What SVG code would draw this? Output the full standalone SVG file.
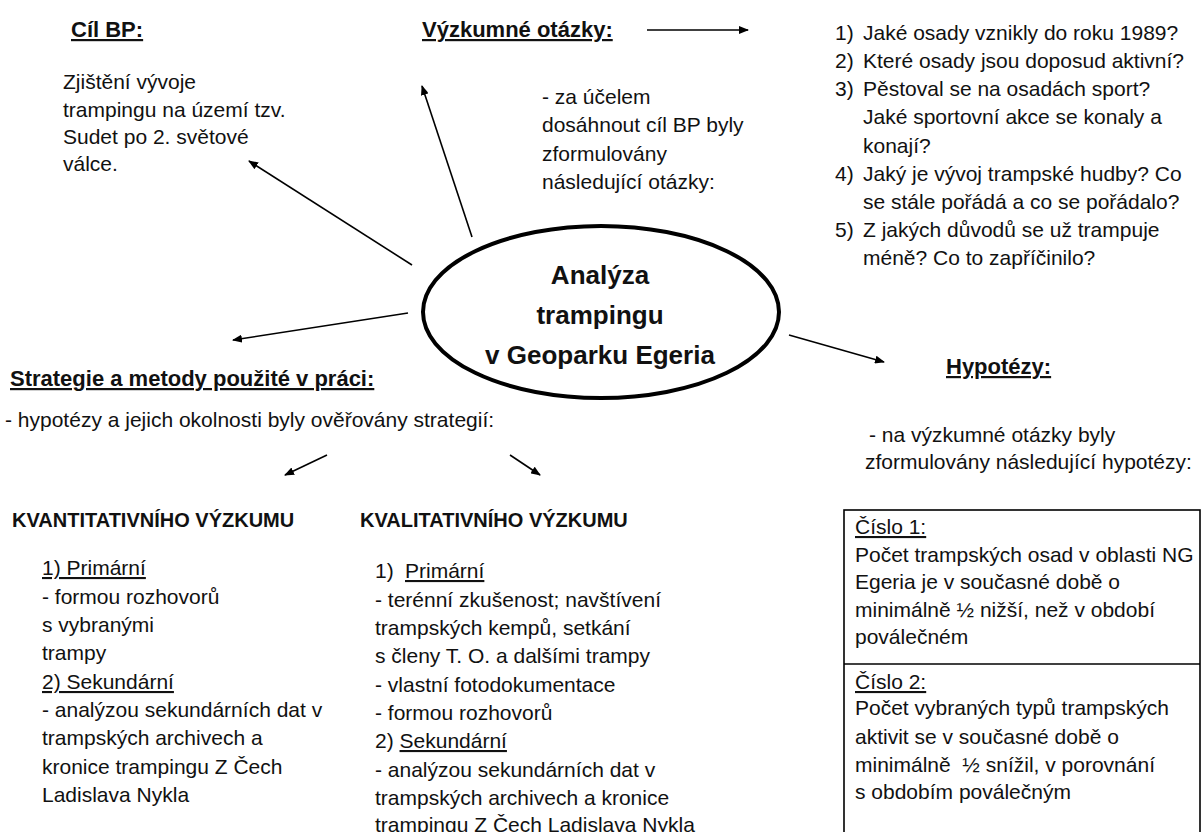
<svg xmlns="http://www.w3.org/2000/svg" width="1204" height="832" viewBox="0 0 1204 832">
<defs>
<marker id="ah" markerWidth="10" markerHeight="8" refX="9" refY="4" orient="auto" markerUnits="userSpaceOnUse">
<path d="M0,0 L10,4 L0,8 Z" fill="#000"/>
</marker>
<style>
text{font-family:"Liberation Sans",Arial,sans-serif;fill:#111;}
.b{font-size:21px;}
.h{font-size:22px;font-weight:bold;text-decoration:underline;}
.k{font-size:20px;font-weight:bold;}
.c{font-size:26px;font-weight:bold;text-anchor:middle;}
.u{text-decoration:underline;}
.ln{stroke:#000;stroke-width:1.6;fill:none;marker-end:url(#ah);}
</style>
</defs>
<rect width="1204" height="832" fill="#fff"/>
<g id="center">
<ellipse cx="601" cy="312" rx="178" ry="86" fill="#fff" stroke="#000" stroke-width="4"/>
<text class="c" x="600" y="284">Analýza</text>
<text class="c" x="600" y="324">trampingu</text>
<text class="c" x="600" y="364">v Geoparku Egeria</text>
</g>
<g id="cil">
<text class="h" x="71" y="37">Cíl BP:</text>
<text class="b" x="63" y="89">Zjištění vývoje</text>
<text class="b" x="63" y="117">trampingu na území tzv.</text>
<text class="b" x="63" y="144">Sudet po 2. světové</text>
<text class="b" x="63" y="171">válce.</text>
</g>
<g id="otazky">
<text class="h" x="422" y="37">Výzkumné otázky:</text>
<text class="b" x="542" y="104">- za účelem</text>
<text class="b" x="542" y="132">dosáhnout cíl BP byly</text>
<text class="b" x="542" y="161">zformulovány</text>
<text class="b" x="542" y="189">následující otázky:</text>
</g>
<g id="seznam">
<text class="b" x="835" y="40">1)</text><text class="b" x="863" y="40">Jaké osady vznikly do roku 1989?</text>
<text class="b" x="835" y="68">2)</text><text class="b" x="863" y="68">Které osady jsou doposud aktivní?</text>
<text class="b" x="835" y="96">3)</text><text class="b" x="863" y="96">Pěstoval se na osadách sport?</text>
<text class="b" x="863" y="124">Jaké sportovní akce se konaly a</text>
<text class="b" x="863" y="153">konají?</text>
<text class="b" x="835" y="181">4)</text><text class="b" x="863" y="181">Jaký je vývoj trampské hudby? Co</text>
<text class="b" x="863" y="209">se stále pořádá a co se pořádalo?</text>
<text class="b" x="835" y="237">5)</text><text class="b" x="863" y="237">Z jakých důvodů se už trampuje</text>
<text class="b" x="863" y="265">méně? Co to zapříčinilo?</text>
</g>
<g id="strategie">
<text class="h" x="10" y="386">Strategie a metody použité v práci:</text>
<text class="b" x="5" y="427">- hypotézy a jejich okolnosti byly ověřovány strategií:</text>
</g>
<g id="kvantitativni">
<text class="k" x="12" y="527">KVANTITATIVNÍHO VÝZKUMU</text>
<text class="b u" x="42" y="575">1) Primární</text>
<text class="b" x="42" y="604">- formou rozhovorů</text>
<text class="b" x="42" y="632">s vybranými</text>
<text class="b" x="42" y="660">trampy</text>
<text class="b u" x="42" y="689">2) Sekundární</text>
<text class="b" x="42" y="717">- analýzou sekundárních dat v</text>
<text class="b" x="42" y="745">trampských archivech a</text>
<text class="b" x="42" y="774">kronice trampingu Z Čech</text>
<text class="b" x="42" y="802">Ladislava Nykla</text>
</g>
<g id="kvalitativni">
<text class="k" x="360" y="527">KVALITATIVNÍHO VÝZKUMU</text>
<text class="b" x="375" y="578">1)</text><text class="b u" x="405" y="578">Primární</text>
<text class="b" x="375" y="607">- terénní zkušenost; navštívení</text>
<text class="b" x="375" y="635">trampských kempů, setkání</text>
<text class="b" x="375" y="663">s členy T. O. a dalšími trampy</text>
<text class="b" x="375" y="692">- vlastní fotodokumentace</text>
<text class="b" x="375" y="720">- formou rozhovorů</text>
<text class="b" x="375" y="748">2) <tspan class="u">Sekundární</tspan></text>
<text class="b" x="375" y="777">- analýzou sekundárních dat v</text>
<text class="b" x="375" y="805">trampských archivech a kronice</text>
<text class="b" x="375" y="832">trampingu Z Čech Ladislava Nykla</text>
</g>
<g id="hypotezy">
<text class="h" x="946" y="374">Hypotézy:</text>
<text class="b" x="869" y="442">- na výzkumné otázky byly</text>
<text class="b" x="865" y="469">zformulovány následující hypotézy:</text>
</g>
<g id="box">
<rect x="844" y="510" width="356" height="340" fill="none" stroke="#000" stroke-width="1.6"/>
<line x1="844" y1="664" x2="1200" y2="664" stroke="#000" stroke-width="1.6"/>
<text class="b u" x="855" y="534">Číslo 1:</text>
<text class="b" x="855" y="562">Počet trampských osad v oblasti NG</text>
<text class="b" x="855" y="589">Egeria je v současné době o</text>
<text class="b" x="855" y="617">minimálně ½ nižší, než v období</text>
<text class="b" x="855" y="644">poválečném</text>
<text class="b u" x="855" y="689">Číslo 2:</text>
<text class="b" x="855" y="715">Počet vybraných typů trampských</text>
<text class="b" x="855" y="744">aktivit se v současné době o</text>
<text class="b" x="855" y="772" xml:space="preserve">minimálně  ½ snížil, v porovnání</text>
<text class="b" x="855" y="799">s obdobím poválečným</text>
</g>
<g id="connectors">
<line class="ln" x1="412" y1="265" x2="249" y2="161"/>
<line class="ln" x1="472" y1="237" x2="422" y2="86"/>
<line class="ln" x1="647" y1="30" x2="748" y2="30"/>
<line class="ln" x1="408" y1="313" x2="233" y2="340"/>
<line class="ln" x1="789" y1="335" x2="884" y2="362"/>
<line class="ln" x1="327" y1="455" x2="285" y2="475"/>
<line class="ln" x1="510" y1="455" x2="540" y2="475"/>
</g>
</svg>
